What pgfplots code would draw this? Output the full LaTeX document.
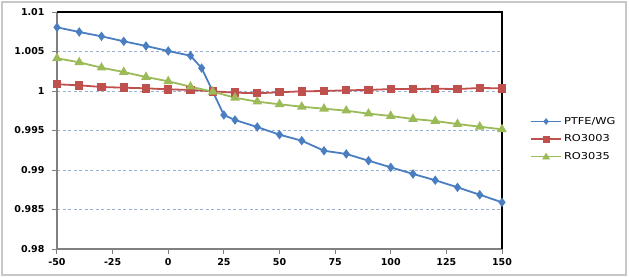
\documentclass[border=0pt]{standalone}
\usepackage{fontspec}
\setmainfont{DejaVu Sans}
\newfontfamily\legfont[FakeStretch=1.2]{DejaVu Sans}
\usepackage{pgfplots}
\pgfplotsset{compat=1.18}
\definecolor{cblue}{RGB}{74,126,193}
\definecolor{cred}{RGB}{192,80,77}
\definecolor{cgreen}{RGB}{155,187,89}
\definecolor{gridc}{RGB}{149,179,215}
\begin{document}
\begin{tikzpicture}[x=1pt,y=1pt]
\useasboundingbox (0,0) rectangle (629,277);
\draw[color=black!22, line width=1.2pt] (2,2) rectangle (626,275);
\begin{axis}[
  at={(57pt,28pt)}, anchor=south west,
  scale only axis, width=445pt, height=237pt,
  xmin=-50, xmax=150, ymin=0.98, ymax=1.01,
  xtick={-50,-25,0,25,50,75,100,125,150},
  xticklabels={-50,-25,0,25,50,75,100,125,150},
  ytick={0.98,0.985,0.99,0.995,1,1.005,1.01},
  yticklabels={0.98,0.985,0.99,0.995,1,1.005,1.01},
  tick pos=left, tick align=outside, major tick length=5pt,
  tick style={draw=gray, line width=1pt},
  ticklabel style={font=\bfseries\fontsize{9.5}{11}\selectfont},
  yticklabel style={xshift=-4pt},
  xticklabel style={yshift=-1pt},
  axis line style={draw=none},
  ymajorgrids, grid style={draw=gridc, line width=0.8pt, dash pattern=on 3pt off 2.5pt},
  clip=false,
  legend style={at={(1,0.464)}, anchor=west, xshift=28pt, draw=none, fill=none,
    font=\legfont\fontsize{9.5}{11}\selectfont, row sep=5pt, inner sep=0pt},
  legend cell align=left,
]
\draw[gray, line width=1.6pt] (rel axis cs:0,1) -- (rel axis cs:0,0) -- (rel axis cs:1,0);
\draw[black, line width=1.2pt] (rel axis cs:0,1) -- (rel axis cs:1,1) -- (rel axis cs:1,0);
\addlegendimage{legend image code/.code={\draw[cblue, line width=1.8pt] (0pt,0pt) -- (30pt,0pt); \fill[cblue] (12.5pt,0pt) -- (15pt,3pt) -- (17.5pt,0pt) -- (15pt,-3pt) -- cycle;}}
\addlegendentry{PTFE/WG}
\addlegendimage{legend image code/.code={\draw[cred, line width=1.8pt] (0pt,0pt) -- (30pt,0pt); \fill[cred] (12pt,-3pt) rectangle (18pt,3pt);}}
\addlegendentry{RO3003}
\addlegendimage{legend image code/.code={\draw[cgreen, line width=1.8pt] (0pt,0pt) -- (30pt,0pt); \fill[cgreen] (11.5pt,-2.5pt) -- (18.5pt,-2.5pt) -- (15pt,3.5pt) -- cycle;}}
\addlegendentry{RO3035}
\addplot[forget plot, cblue, line width=1.8pt, mark=diamond*, mark size=3.3pt, mark options={fill=cblue}] coordinates {
(-50,1.00806) (-40,1.00747) (-30,1.00692) (-20,1.00629) (-10,1.00570) (0,1.00506)
(10,1.00447) (15,1.00290) (20,0.99995) (25,0.99696) (30,0.99633) (40,0.99544)
(50,0.99447) (60,0.99371) (70,0.99244) (80,0.99203) (90,0.99118) (100,0.99034)
(110,0.98950) (120,0.98870) (130,0.98781) (140,0.98687) (150,0.98591)};
\addplot[forget plot, cred, line width=1.8pt, mark=square*, mark size=3.3pt, mark options={fill=cred}] coordinates {
(-50,1.00085) (-40,1.00072) (-30,1.00051) (-20,1.00042) (-10,1.00034) (0,1.00021)
(10,1.00013) (20,0.99996) (30,0.99979) (40,0.99971) (50,0.99984) (60,0.99996)
(70,1.00000) (80,1.00009) (90,1.00013) (100,1.00025) (110,1.00025) (120,1.00029)
(130,1.00025) (140,1.00038) (150,1.00034)};
\addplot[forget plot, cgreen, line width=1.8pt, mark=triangle*, mark size=3.8pt, mark options={fill=cgreen}] coordinates {
(-50,1.00414) (-40,1.00363) (-30,1.00295) (-20,1.00240) (-10,1.00177) (0,1.00123)
(10,1.00055) (20,0.99991) (30,0.99915) (40,0.99865) (50,0.99832) (60,0.99801)
(70,0.99776) (80,0.99751) (90,0.99713) (100,0.99684) (110,0.99646) (120,0.99620)
(130,0.99582) (140,0.99548) (150,0.99515)};
\end{axis}
\end{tikzpicture}
\end{document}
